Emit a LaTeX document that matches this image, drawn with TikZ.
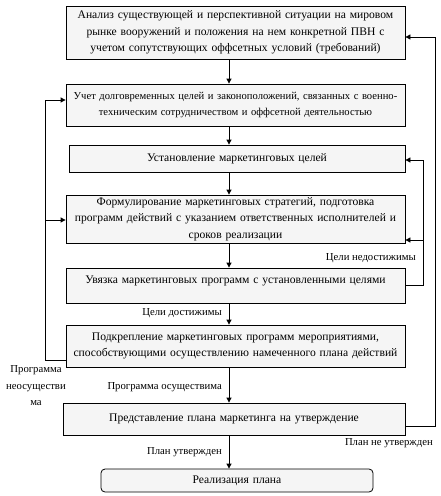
\documentclass[tikz,border=0pt]{standalone}
\usepackage{fontspec}
\setmainfont{Liberation Serif}
\usetikzlibrary{arrows.meta}
\begin{document}
\begin{tikzpicture}[x=1pt,y=-1pt,
  font=\fontsize{11.6}{16.5}\selectfont,
  box/.style={draw=black,line width=0.8pt,fill=gray!8,align=center,inner sep=0pt,text width=#1},
  conn/.style={line width=0.8pt,-{Triangle[width=5pt,length=5pt]}},
  lab/.style={inner sep=0pt,align=center,font=\fontsize{10.7}{16.5}\selectfont}]
\useasboundingbox (0,0) rectangle (441,496);
\node[box=339pt,minimum height=53pt] (b1) at (235.5,32.5) {Анализ существующей и перспективной ситуации на мировом\\рынке вооружений и положения на  нем конкретной ПВН с\\учетом сопутствующих оффсетных условий (требований)};
\node[box=339pt,minimum height=42pt,font=\fontsize{10.6}{16.5}\selectfont] (b2) at (235.5,105) {Учет долговременных целей и законоположений, связанных с военно-\\техническим сотрудничеством и оффсетной деятельностью};
\node[box=336pt,minimum height=27pt] (b3) at (237,158.5) {Установление маркетинговых целей};
\node[box=339pt,minimum height=48pt] (b4) at (235.5,219) {Формулирование маркетинговых стратегий, подготовка\\программ действий с указанием ответственных исполнителей и\\сроков реализации};
\node[box=339pt,minimum height=35pt,text depth=11pt] (b5) at (235.5,285.5) {Увязка маркетинговых программ с установленными целями};
\node[box=339pt,minimum height=42pt] (b6) at (235.5,346) {Подкрепление маркетинговых программ мероприятиями,\\способствующими осуществлению намеченного плана действий};
\node[box=342pt,minimum height=32pt] (b7) at (234,419) {Представление плана маркетинга на утверждение};
\node[box=272pt,minimum height=23pt,rounded corners=4pt] (b8) at (237,480.5) {Реализация плана};
\coordinate (cx) at (229,0);
\foreach \a/\b in {b1/b2,b2/b3,b3/b4,b4/b5,b5/b6,b6/b7,b7/b8}
  \draw[conn] (\a.south -| cx) -- (\b.north -| cx);
% right loop 1
\coordinate (r1a) at (405,426);
\coordinate (r1b) at (435,426);
\coordinate (r1c) at (435,37);
\draw[conn] (r1a) -- (r1b) -- (r1c) -- (b1.east |- r1c);
% right loop 2
\coordinate (r2a) at (405,285);
\coordinate (r2b) at (423,285);
\coordinate (r2c) at (423,160);
\coordinate (r2d) at (423,240);
\draw[conn] (r2a) -- (r2b) -- (r2c) -- (b3.east |- r2c);
\draw[conn] (r2d) -- (b4.east |- r2d);
% left loop
\coordinate (l1a) at (66,360);
\coordinate (l1b) at (45,360);
\coordinate (l1c) at (45,100);
\coordinate (l1d) at (45,220);
\draw[conn] (l1a) -- (l1b) -- (l1c) -- (b2.west |- l1c);
\draw[conn] (l1d) -- (b4.west |- l1d);
% labels
\node[lab,anchor=east] (t1) at (416,258) {Цели недостижимы};
\node[lab,anchor=east] (t2) at (222,313) {Цели достижимы};
\node[lab] (t3) at (36,386) {Программа\\неосуществи\\ма};
\node[lab,anchor=east] (t4) at (222,387) {Программа осуществима};
\node[lab,anchor=east] (t5) at (222,452) {План утвержден};
\node[lab,anchor=east] (t6) at (433,443) {План не утвержден};
\end{tikzpicture}
\end{document}
